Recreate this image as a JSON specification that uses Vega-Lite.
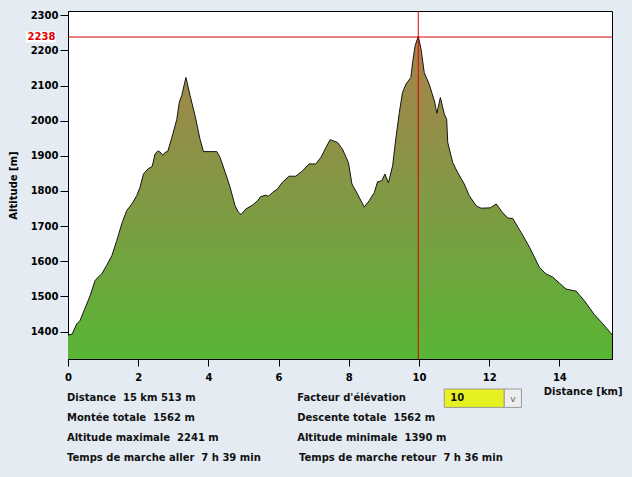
{
  "$schema": "https://vega.github.io/schema/vega-lite/v6.json",
  "background": "#e4ebf3",
  "padding": {"left": 7, "top": 9, "right": 10, "bottom": 12},
  "spacing": 4,
  "config": {
    "font": "DejaVu Sans",
    "axis": {
      "labelFont": "DejaVu Sans",
      "labelFontWeight": "bold",
      "labelFontSize": 10,
      "labelColor": "black",
      "labelOverlap": false,
      "labelBound": false,
      "labelFlush": false,
      "titleFont": "DejaVu Sans",
      "titleFontWeight": "bold",
      "titleFontSize": 10,
      "titleColor": "black",
      "domainColor": "black",
      "tickColor": "black",
      "grid": false
    },
    "axisX": {"format": "d", "tickSize": 7, "labelPadding": 6},
    "axisY": {"format": "d", "tickSize": 8, "labelPadding": 2, "titlePadding": 12}
  },
  "datasets": {
    "profile": [
      {"d": 0.00, "alt": 1390}, {"d": 0.12, "alt": 1393}, {"d": 0.25, "alt": 1422}, {"d": 0.34, "alt": 1431},
      {"d": 0.48, "alt": 1465}, {"d": 0.63, "alt": 1502}, {"d": 0.77, "alt": 1545}, {"d": 0.86, "alt": 1555},
      {"d": 0.96, "alt": 1564}, {"d": 1.10, "alt": 1588}, {"d": 1.25, "alt": 1616}, {"d": 1.39, "alt": 1659},
      {"d": 1.53, "alt": 1706}, {"d": 1.67, "alt": 1744}, {"d": 1.82, "alt": 1763}, {"d": 1.96, "alt": 1787},
      {"d": 2.05, "alt": 1810}, {"d": 2.15, "alt": 1848}, {"d": 2.27, "alt": 1862}, {"d": 2.40, "alt": 1870},
      {"d": 2.48, "alt": 1905}, {"d": 2.56, "alt": 1914}, {"d": 2.62, "alt": 1911}, {"d": 2.70, "alt": 1902},
      {"d": 2.77, "alt": 1910}, {"d": 2.84, "alt": 1912}, {"d": 2.96, "alt": 1952}, {"d": 3.10, "alt": 2004},
      {"d": 3.17, "alt": 2052}, {"d": 3.24, "alt": 2071}, {"d": 3.36, "alt": 2123}, {"d": 3.48, "alt": 2071},
      {"d": 3.62, "alt": 2014}, {"d": 3.76, "alt": 1948}, {"d": 3.86, "alt": 1912}, {"d": 4.24, "alt": 1912},
      {"d": 4.33, "alt": 1896}, {"d": 4.48, "alt": 1853}, {"d": 4.62, "alt": 1810}, {"d": 4.76, "alt": 1758},
      {"d": 4.86, "alt": 1739}, {"d": 4.93, "alt": 1733}, {"d": 5.07, "alt": 1749}, {"d": 5.26, "alt": 1760},
      {"d": 5.40, "alt": 1772}, {"d": 5.49, "alt": 1784}, {"d": 5.64, "alt": 1788}, {"d": 5.71, "alt": 1785},
      {"d": 5.83, "alt": 1796}, {"d": 5.97, "alt": 1806}, {"d": 6.11, "alt": 1825}, {"d": 6.30, "alt": 1842},
      {"d": 6.49, "alt": 1842}, {"d": 6.68, "alt": 1857}, {"d": 6.87, "alt": 1877}, {"d": 7.06, "alt": 1877},
      {"d": 7.21, "alt": 1896}, {"d": 7.35, "alt": 1924}, {"d": 7.47, "alt": 1946}, {"d": 7.68, "alt": 1938},
      {"d": 7.82, "alt": 1919}, {"d": 7.99, "alt": 1881}, {"d": 8.09, "alt": 1820}, {"d": 8.25, "alt": 1791},
      {"d": 8.44, "alt": 1754}, {"d": 8.58, "alt": 1772}, {"d": 8.73, "alt": 1796}, {"d": 8.82, "alt": 1826},
      {"d": 8.94, "alt": 1829}, {"d": 9.03, "alt": 1848}, {"d": 9.13, "alt": 1823}, {"d": 9.25, "alt": 1872},
      {"d": 9.34, "alt": 1948}, {"d": 9.44, "alt": 2023}, {"d": 9.53, "alt": 2080}, {"d": 9.63, "alt": 2104},
      {"d": 9.77, "alt": 2123}, {"d": 9.82, "alt": 2166}, {"d": 9.89, "alt": 2213}, {"d": 9.98, "alt": 2240},
      {"d": 10.06, "alt": 2203}, {"d": 10.15, "alt": 2137}, {"d": 10.29, "alt": 2104}, {"d": 10.44, "alt": 2056},
      {"d": 10.51, "alt": 2021}, {"d": 10.61, "alt": 2066}, {"d": 10.72, "alt": 2019}, {"d": 10.79, "alt": 2004},
      {"d": 10.82, "alt": 1938}, {"d": 10.96, "alt": 1881}, {"d": 11.10, "alt": 1853}, {"d": 11.29, "alt": 1820},
      {"d": 11.43, "alt": 1787}, {"d": 11.63, "alt": 1758}, {"d": 11.77, "alt": 1751}, {"d": 12.03, "alt": 1752},
      {"d": 12.20, "alt": 1763}, {"d": 12.38, "alt": 1739}, {"d": 12.53, "alt": 1723}, {"d": 12.67, "alt": 1722},
      {"d": 12.91, "alt": 1682}, {"d": 13.15, "alt": 1640}, {"d": 13.43, "alt": 1583}, {"d": 13.62, "alt": 1564},
      {"d": 13.81, "alt": 1555}, {"d": 14.00, "alt": 1538}, {"d": 14.19, "alt": 1521}, {"d": 14.48, "alt": 1515},
      {"d": 14.71, "alt": 1488}, {"d": 15.00, "alt": 1448}, {"d": 15.24, "alt": 1422}, {"d": 15.51, "alt": 1390}
    ],
    "stats": [
      {"t": "Distance\u00a0 15 km 513 m", "km": -0.03, "row": 1},
      {"t": "Montée totale\u00a0 1562 m", "km": -0.03, "row": 2},
      {"t": "Altitude maximale\u00a0 2241 m", "km": -0.03, "row": 3},
      {"t": "Temps de marche aller\u00a0 7 h 39 min", "km": -0.03, "row": 4},
      {"t": "Facteur d'élévation", "km": 6.53, "row": 1},
      {"t": "Descente totale\u00a0 1562 m", "km": 6.53, "row": 2},
      {"t": "Altitude minimale\u00a0 1390 m", "km": 6.53, "row": 3},
      {"t": "Temps de marche retour\u00a0 7 h 36 min", "km": 6.58, "row": 4},
      {"t": "10", "km": 10.89, "row": 1}
    ]
  },
  "vconcat": [
    {
      "width": 544,
      "height": 348,
      "view": {"fill": "white", "stroke": "black", "strokeWidth": 1},
      "layer": [
        {
          "data": {"name": "profile"},
          "mark": {
            "type": "area",
            "clip": true,
            "opacity": 1,
            "fillOpacity": 1,
            "color": {
              "gradient": "linear",
              "x1": 0, "y1": 0, "x2": 0, "y2": 1,
              "stops": [
                {"offset": 0, "color": "#aa814b"},
                {"offset": 0.5, "color": "#819944"},
                {"offset": 1, "color": "#58b535"}
              ]
            },
            "line": {"color": "#141414", "strokeWidth": 1}
          },
          "encoding": {
            "x": {
              "field": "d", "type": "quantitative",
              "scale": {"domain": [0, 15.5], "nice": false, "zero": false},
              "axis": {"title": null, "values": [0, 2, 4, 6, 8, 10, 12, 14]}
            },
            "y": {
              "field": "alt", "type": "quantitative",
              "scale": {"domain": [1322, 2312], "nice": false, "zero": false},
              "axis": {"title": "Altitude [m]", "values": [1400, 1500, 1600, 1700, 1800, 1900, 2000, 2100, 2200, 2300]}
            },
            "y2": {"datum": 1322}
          }
        },
        {
          "data": {"values": [{"alt": 2238}]},
          "mark": {"type": "rule", "color": "#d80000", "strokeWidth": 1},
          "encoding": {"y": {"field": "alt", "type": "quantitative", "axis": {"title": "Altitude [m]", "values": [1400, 1500, 1600, 1700, 1800, 1900, 2000, 2100, 2200, 2300]}}}
        },
        {
          "data": {"values": [{"d": 9.98}]},
          "mark": {"type": "rule", "color": "#d80000", "strokeWidth": 1},
          "encoding": {"x": {"field": "d", "type": "quantitative", "axis": {"title": null, "values": [0, 2, 4, 6, 8, 10, 12, 14]}}}
        },
        {
          "data": {"values": [{"d1": -1.2, "d2": -0.34, "a1": 2222.5, "a2": 2253.5}]},
          "mark": {"type": "rect", "fill": "white", "clip": false},
          "encoding": {
            "x": {"field": "d1", "type": "quantitative", "axis": {"title": null, "values": [0, 2, 4, 6, 8, 10, 12, 14]}},
            "x2": {"field": "d2"},
            "y": {"field": "a1", "type": "quantitative", "axis": {"title": "Altitude [m]", "values": [1400, 1500, 1600, 1700, 1800, 1900, 2000, 2100, 2200, 2300]}},
            "y2": {"field": "a2"}
          }
        },
        {
          "data": {"values": [{"d": -0.36, "alt": 2238, "t": "2238"}]},
          "mark": {"type": "text", "align": "right", "baseline": "middle", "clip": false, "font": "DejaVu Sans", "fontWeight": "bold", "fontSize": 10, "color": "#e00000"},
          "encoding": {
            "x": {"field": "d", "type": "quantitative", "axis": {"title": null, "values": [0, 2, 4, 6, 8, 10, 12, 14]}},
            "y": {"field": "alt", "type": "quantitative", "axis": {"title": "Altitude [m]", "values": [1400, 1500, 1600, 1700, 1800, 1900, 2000, 2100, 2200, 2300]}},
            "text": {"field": "t"}
          }
        }
      ]
    },
    {
      "width": 544,
      "height": 80,
      "view": {"stroke": null},
      "layer": [
        {
          "data": {"values": [{"k1": 10.72, "k2": 12.43, "r1": 0.55, "r2": 1.47}]},
          "mark": {"type": "rect", "fill": "#e6f21f", "stroke": "#9a9a9a", "strokeWidth": 1},
          "encoding": {
            "x": {"field": "k1", "type": "quantitative", "scale": {"domain": [0, 15.5], "nice": false, "zero": false}, "axis": null},
            "x2": {"field": "k2"},
            "y": {"field": "r1", "type": "quantitative", "scale": {"domain": [0.5, 4.5], "reverse": true, "nice": false, "zero": false}, "axis": null},
            "y2": {"field": "r2"}
          }
        },
        {
          "data": {"values": [{"k1": 12.43, "k2": 12.92, "r1": 0.55, "r2": 1.47}]},
          "mark": {"type": "rect", "fill": "#eeeeee", "stroke": "#9a9a9a", "strokeWidth": 1},
          "encoding": {
            "x": {"field": "k1", "type": "quantitative", "scale": {"domain": [0, 15.5], "nice": false, "zero": false}, "axis": null},
            "x2": {"field": "k2"},
            "y": {"field": "r1", "type": "quantitative", "scale": {"domain": [0.5, 4.5], "reverse": true, "nice": false, "zero": false}, "axis": null},
            "y2": {"field": "r2"}
          }
        },
        {
          "data": {"values": [{"t": "v", "km": 12.675, "row": 1.05}]},
          "mark": {"type": "text", "align": "center", "baseline": "middle", "font": "DejaVu Sans", "fontSize": 9, "color": "#556677"},
          "encoding": {
            "x": {"field": "km", "type": "quantitative", "scale": {"domain": [0, 15.5], "nice": false, "zero": false}, "axis": null},
            "y": {"field": "row", "type": "quantitative", "scale": {"domain": [0.5, 4.5], "reverse": true, "nice": false, "zero": false}, "axis": null},
            "text": {"field": "t"}
          }
        },
        {
          "data": {"name": "stats"},
          "mark": {"type": "text", "align": "left", "baseline": "middle", "font": "DejaVu Sans", "fontWeight": "bold", "fontSize": 10, "color": "#111111"},
          "encoding": {
            "x": {"field": "km", "type": "quantitative", "scale": {"domain": [0, 15.5], "nice": false, "zero": false}, "axis": null},
            "y": {"field": "row", "type": "quantitative", "scale": {"domain": [0.5, 4.5], "reverse": true, "nice": false, "zero": false}, "axis": null},
            "text": {"field": "t"}
          }
        },
        {
          "data": {"values": [{"t": "Distance [km]", "km": 15.8, "row": 1}]},
          "mark": {"type": "text", "align": "right", "baseline": "middle", "dy": -6, "font": "DejaVu Sans", "fontWeight": "bold", "fontSize": 10, "color": "#111111"},
          "encoding": {
            "x": {"field": "km", "type": "quantitative", "scale": {"domain": [0, 15.5], "nice": false, "zero": false}, "axis": null},
            "y": {"field": "row", "type": "quantitative", "scale": {"domain": [0.5, 4.5], "reverse": true, "nice": false, "zero": false}, "axis": null},
            "text": {"field": "t"}
          }
        }
      ]
    }
  ]
}
